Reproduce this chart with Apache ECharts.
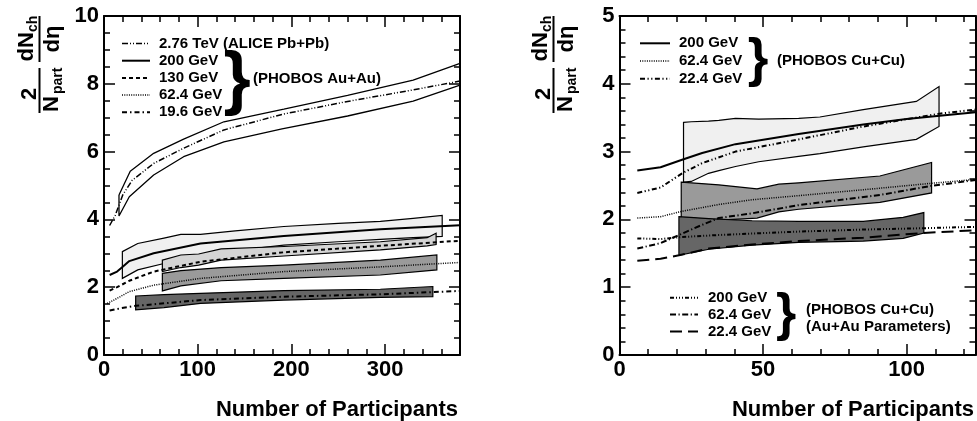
<!DOCTYPE html>
<html>
<head>
<meta charset="utf-8">
<script src="https://cdn.jsdelivr.net/npm/echarts@6/dist/echarts.min.js"></script>
<style>
html,body{margin:0;padding:0;background:#fff;}
#chart{width:977px;height:421px;}
</style>
</head>
<body>
<div id="chart"></div>
<script>
// ---------------- DATA ----------------
// Left panel (Au+Au / Pb+Pb), x = Npart, y = (2/Npart) dNch/deta
const aliceX   = [6, 12, 20, 30, 53, 85, 128, 192, 260, 330, 380];
const aliceY   = [3.82, 4.12, 4.72, 5.15, 5.65, 6.10, 6.64, 7.11, 7.48, 7.82, 8.08];
const aliceHiX = [16, 28, 53, 85, 128, 192, 260, 330, 380];
const aliceHiY = [4.72, 5.42, 5.95, 6.37, 6.88, 7.25, 7.66, 8.11, 8.60];
const aliceLoX = [16, 16, 27, 53, 85, 128, 190, 260, 330, 380];
const aliceLoY = [4.72, 4.10, 4.67, 5.31, 5.85, 6.29, 6.67, 7.05, 7.49, 7.96];

const au200X = [6, 14, 20, 27, 53, 103, 192, 295, 380];
const au200Y = [2.36, 2.46, 2.60, 2.77, 3.00, 3.29, 3.51, 3.71, 3.83];
const au130X = [6, 14, 27, 53, 103, 192, 295, 380];
const au130Y = [1.90, 2.00, 2.19, 2.46, 2.75, 3.03, 3.22, 3.37];
const au62X  = [3.5, 14, 27, 53, 103, 192, 295, 380];
const au62Y  = [1.52, 1.67, 1.87, 2.06, 2.26, 2.46, 2.60, 2.73];
const au19X  = [6, 18, 34, 103, 192, 295, 380];
const au19Y  = [1.31, 1.38, 1.45, 1.62, 1.72, 1.79, 1.89];

// PHOBOS Au+Au systematic bands
const b200X  = [19.6, 36, 64, 82, 103, 140, 192, 250, 295, 330, 361];
const b200Hi = [3.05, 3.29, 3.45, 3.56, 3.56, 3.66, 3.79, 3.88, 3.94, 4.03, 4.12];
const b200Lo = [2.26, 2.51, 2.70, 2.82, 2.95, 3.08, 3.24, 3.34, 3.41, 3.46, 3.50];
const b130X  = [62.3, 82, 101, 125, 192, 295, 345, 354.5];
const b130Hi = [2.80, 2.95, 2.98, 3.13, 3.20, 3.34, 3.46, 3.59];
const b130Lo = [2.46, 2.58, 2.65, 2.80, 2.92, 3.10, 3.22, 3.26];
const b62X   = [62.3, 82, 125, 192, 295, 355.3];
const b62Hi  = [2.41, 2.49, 2.58, 2.65, 2.80, 2.95];
const b62Lo  = [1.89, 2.04, 2.19, 2.26, 2.36, 2.51];
const b19X   = [33.8, 64, 103, 192, 295, 351];
const b19Hi  = [1.74, 1.78, 1.82, 1.90, 1.94, 2.02];
const b19Lo  = [1.33, 1.40, 1.52, 1.62, 1.70, 1.72];

// Right panel (Cu+Cu)
const cu200X = [6.2, 14.3, 21.8, 28.8, 40.4, 62.4, 84.9, 100, 111.5, 124];
const cu200Y = [2.72, 2.77, 2.88, 2.98, 3.11, 3.26, 3.40, 3.48, 3.53, 3.58];
const cu62X  = [6.2, 14.3, 21.8, 34.6, 46.2, 62.4, 90.7, 108, 124];
const cu62Y  = [2.02, 2.04, 2.12, 2.22, 2.29, 2.35, 2.46, 2.53, 2.59];
const cu22X  = [6.2, 14.3, 21.8, 28.8, 40.4, 62.4, 84.9, 111.5, 124];
const cu22Y  = [2.39, 2.47, 2.68, 2.83, 3.00, 3.18, 3.37, 3.56, 3.62];
const cuAu200X = [6.2, 14.3, 21.8, 34.6, 62.4, 84.9, 105.8, 124];
const cuAu200Y = [1.72, 1.71, 1.74, 1.77, 1.82, 1.85, 1.87, 1.89];
const cuAu62X  = [6.2, 14.3, 21.8, 28.8, 34.6, 46.2, 62.4, 90.7, 108, 124];
const cuAu62Y  = [1.57, 1.65, 1.79, 1.92, 2.02, 2.09, 2.21, 2.36, 2.49, 2.58];
const cuAu22X  = [6.2, 14.3, 20.7, 31.1, 46.2, 62.4, 84.9, 105.8, 124];
const cuAu22Y  = [1.39, 1.42, 1.47, 1.57, 1.63, 1.68, 1.73, 1.80, 1.84];

// Cu+Cu systematic bands
const c200X  = [22.3, 25, 31, 34.6, 40.4, 48.5, 62.4, 69.8, 84.9, 103.4, 111.3];
const c200Hi = [3.43, 3.44, 3.45, 3.46, 3.49, 3.48, 3.49, 3.51, 3.62, 3.74, 3.96];
const c200Lo = [2.55, 2.56, 2.68, 2.72, 2.78, 2.85, 2.93, 2.97, 3.07, 3.18, 3.37];
const c62X   = [21.5, 34.6, 47.9, 55.5, 62.4, 90.7, 108.7];
const c62Hi  = [2.55, 2.51, 2.45, 2.52, 2.54, 2.64, 2.84];
const c62Lo  = [2.03, 1.99, 2.02, 2.11, 2.15, 2.25, 2.39];
const c22X   = [20.7, 31.1, 46.2, 62.4, 84.9, 98.8, 106];
const c22Hi  = [2.04, 2.01, 1.98, 1.97, 1.97, 2.03, 2.10];
const c22Lo  = [1.47, 1.56, 1.62, 1.66, 1.68, 1.72, 1.80];

// Legend texts
const leftLegend  = ['2.76 TeV (ALICE Pb+Pb)', '200 GeV', '130 GeV', '62.4 GeV', '19.6 GeV'];
const rightLegend = ['200 GeV', '62.4 GeV', '22.4 GeV'];
const rightLegend2 = ['200 GeV', '62.4 GeV', '22.4 GeV'];

// ---------------- STYLE ----------------
const FONT = '"Liberation Sans", Arial, Helvetica, sans-serif';
const S = {
  alice:  {w: 1.5, dash: [6, 2, 1, 2, 1, 2]},
  solid:  {w: 2,   dash: 'solid'},
  dashed: {w: 2,   dash: [4, 3]},
  dotted: {w: 1.5, dash: [1, 1.3]},
  dashdot:{w: 2,   dash: [5, 3, 1.5, 3]},
  dd:     {w: 2,   dash: [5, 2.5, 1.2, 2.5, 1.2, 2.5]},
  d3:     {w: 2,   dash: [4, 2, 1, 2, 1, 2, 1, 2]},
  d62:    {w: 2,   dash: [6, 2.5, 1.2, 2.5]},
  long:   {w: 2,   dash: [12, 6]},
  thin:   {w: 1.3, dash: 'solid'}
};

function zip(xs, ys) { return xs.map((x, i) => [x, ys[i]]); }

function line(xs, ys, st, ai) {
  return {
    type: 'line', xAxisIndex: ai, yAxisIndex: ai, data: zip(xs, ys),
    showSymbol: false, symbol: 'none', silent: true, animation: false, z: 3,
    lineStyle: {color: '#000', width: st.w, type: st.dash, cap: 'butt'}
  };
}

function bandSeries(bands, colors, ai) {
  return {
    type: 'custom', xAxisIndex: ai, yAxisIndex: ai, silent: true, animation: false, z: 2,
    data: bands.map(b => [b[0][0], b[1][0]]),
    renderItem: function (params, api) {
      const b = bands[params.dataIndex];
      const pts = [];
      for (let i = 0; i < b[0].length; i++) pts.push(api.coord([b[0][i], b[1][i]]));
      for (let i = b[0].length - 1; i >= 0; i--) pts.push(api.coord([b[0][i], b[2][i]]));
      return {type: 'polygon', shape: {points: pts},
              style: {fill: colors[params.dataIndex], stroke: '#000', lineWidth: 1.2}};
    }
  };
}

const labelStyle = {color: '#000', fontSize: 22, fontWeight: 'bold', fontFamily: FONT};

function xAxes(grid, max, major, minor) {
  const base = {gridIndex: grid, type: 'value', min: 0, max: max, splitLine: {show: false}};
  const tick = len => ({show: true, inside: true, length: len, lineStyle: {color: '#000', width: 1.5}});
  const axl = show => ({show: show, onZero: false, lineStyle: {color: '#000', width: 2}});
  return [
    Object.assign({}, base, {position: 'bottom', interval: major, axisLine: axl(true), axisTick: tick(11),
      axisLabel: Object.assign({show: true, margin: 4, showMaxLabel: false, showMinLabel: true}, labelStyle)}),
    Object.assign({}, base, {position: 'bottom', interval: minor, axisLine: axl(false), axisTick: tick(6), axisLabel: {show: false}}),
    Object.assign({}, base, {position: 'top', interval: major, axisLine: axl(true), axisTick: tick(11), axisLabel: {show: false}}),
    Object.assign({}, base, {position: 'top', interval: minor, axisLine: axl(false), axisTick: tick(6), axisLabel: {show: false}})
  ];
}
function yAxes(grid, max, major, minor) {
  const base = {gridIndex: grid, type: 'value', min: 0, max: max, splitLine: {show: false}};
  const tick = len => ({show: true, inside: true, length: len, lineStyle: {color: '#000', width: 1.5}});
  const axl = show => ({show: show, onZero: false, lineStyle: {color: '#000', width: 2}});
  return [
    Object.assign({}, base, {position: 'left', interval: major, axisLine: axl(true), axisTick: tick(11),
      axisLabel: Object.assign({show: true, margin: 5, showMaxLabel: true, showMinLabel: true}, labelStyle)}),
    Object.assign({}, base, {position: 'left', interval: minor, axisLine: axl(false), axisTick: tick(6), axisLabel: {show: false}}),
    Object.assign({}, base, {position: 'right', interval: major, axisLine: axl(true), axisTick: tick(11), axisLabel: {show: false}}),
    Object.assign({}, base, {position: 'right', interval: minor, axisLine: axl(false), axisTick: tick(6), axisLabel: {show: false}})
  ];
}

// graphic helpers
function txt(x, y, s, size, align) {
  return {type: 'text', x: x, y: y, silent: true,
    style: {text: s, font: 'bold ' + size + 'px ' + FONT, fill: '#000',
            align: align || 'left', textAlign: align || 'left',
            verticalAlign: 'middle', textVerticalAlign: 'middle'}};
}
function seg(x1, y1, x2, y2, st) {
  return {type: 'line', silent: true, shape: {x1: x1, y1: y1, x2: x2, y2: y2},
    style: {stroke: '#000', lineWidth: st.w, lineDash: st.dash === 'solid' ? null : st.dash}};
}
function yTitle(ox, oy) {
  return {type: 'group', x: ox, y: oy, rotation: Math.PI / 2, silent: true, children: [
    seg(0, 0, 45, 0, {w: 2, dash: 'solid'}),
    txt(19, -9.5, '2', 22, 'center'),
    txt(1, 12, 'N', 22, 'left'),
    txt(19, 19, 'part', 14, 'left'),
    seg(51, 0, 97, 0, {w: 2, dash: 'solid'}),
    txt(51.5, -12.5, 'dN', 22, 'left'),
    txt(81, -6, 'ch', 14, 'left'),
    txt(74, 13.5, 'dη', 22, 'center')
  ]};
}

const leftStyles = [S.alice, S.solid, S.dashed, S.dotted, S.dashdot];
const leftRows = [43.5, 60.7, 77.9, 95.1, 112.3];
const rStyles = [S.solid, S.dotted, S.dd];
const rRows = [43.3, 61, 78.7];
const r2Styles = [S.d3, S.d62, S.long];
const r2Rows = [297.7, 314.5, 331.5];

const graphics = [];
leftLegend.forEach((t, i) => { graphics.push(seg(122, leftRows[i], 150, leftRows[i], leftStyles[i])); graphics.push(txt(159, leftRows[i], t, 15)); });
graphics.push(txt(237, 82, '}', 70, 'center'));
graphics.push(txt(253, 79, '(PHOBOS Au+Au)', 15));
rightLegend.forEach((t, i) => { graphics.push(seg(640, rRows[i], 670, rRows[i], rStyles[i])); graphics.push(txt(679, rRows[i], t, 15)); });
graphics.push(txt(758, 61, '}', 53, 'center'));
graphics.push(txt(777, 61, '(PHOBOS Cu+Cu)', 15));
rightLegend2.forEach((t, i) => { graphics.push(seg(670, r2Rows[i], 698, r2Rows[i], r2Styles[i])); graphics.push(txt(708, r2Rows[i], t, 15)); });
graphics.push(txt(786, 315.5, '}', 52, 'center'));
graphics.push(txt(806, 310, '(PHOBOS Cu+Cu)', 15));
graphics.push(txt(806, 327, '(Au+Au Parameters)', 15));
graphics.push(txt(458, 410, 'Number of Participants', 22, 'right'));
graphics.push(txt(974, 410, 'Number of Participants', 22, 'right'));
graphics.push(yTitle(39.5, 113));
graphics.push(yTitle(553.5, 113));

const leftBands = [[b200X, b200Hi, b200Lo], [b130X, b130Hi, b130Lo], [b62X, b62Hi, b62Lo], [b19X, b19Hi, b19Lo]];
const leftColors = ['#f0f0f0', '#d4d4d4', '#9a9a9a', '#666666'];
const rightBands = [[c200X, c200Hi, c200Lo], [c62X, c62Hi, c62Lo], [c22X, c22Hi, c22Lo]];
const rightColors = ['#f0f0f0', '#9a9a9a', '#666666'];

const option = {
  animation: false,
  backgroundColor: '#fff',
  grid: [
    {left: 104, top: 16, width: 356, height: 339},
    {left: 619.5, top: 16, width: 356, height: 339}
  ],
  xAxis: xAxes(0, 380, 100, 20).concat(xAxes(1, 124, 50, 10)),
  yAxis: yAxes(0, 10, 2, 0.5).concat(yAxes(1, 5, 1, 0.2)),
  series: [
    bandSeries(leftBands, leftColors, 0),
    line(aliceHiX, aliceHiY, S.thin, 0),
    line(aliceLoX, aliceLoY, S.thin, 0),
    line(aliceX, aliceY, S.alice, 0),
    line(au200X, au200Y, S.solid, 0),
    line(au130X, au130Y, S.dashed, 0),
    line(au62X, au62Y, S.dotted, 0),
    line(au19X, au19Y, S.dashdot, 0),
    bandSeries(rightBands, rightColors, 4),
    line(cu200X, cu200Y, S.solid, 4),
    line(cu62X, cu62Y, S.dotted, 4),
    line(cu22X, cu22Y, S.dd, 4),
    line(cuAu200X, cuAu200Y, S.d3, 4),
    line(cuAu62X, cuAu62Y, S.d62, 4),
    line(cuAu22X, cuAu22Y, S.long, 4)
  ],
  graphic: graphics
};

const chart = echarts.init(document.getElementById('chart'), null, {renderer: 'canvas'});
chart.setOption(option);
</script>
</body>
</html>
